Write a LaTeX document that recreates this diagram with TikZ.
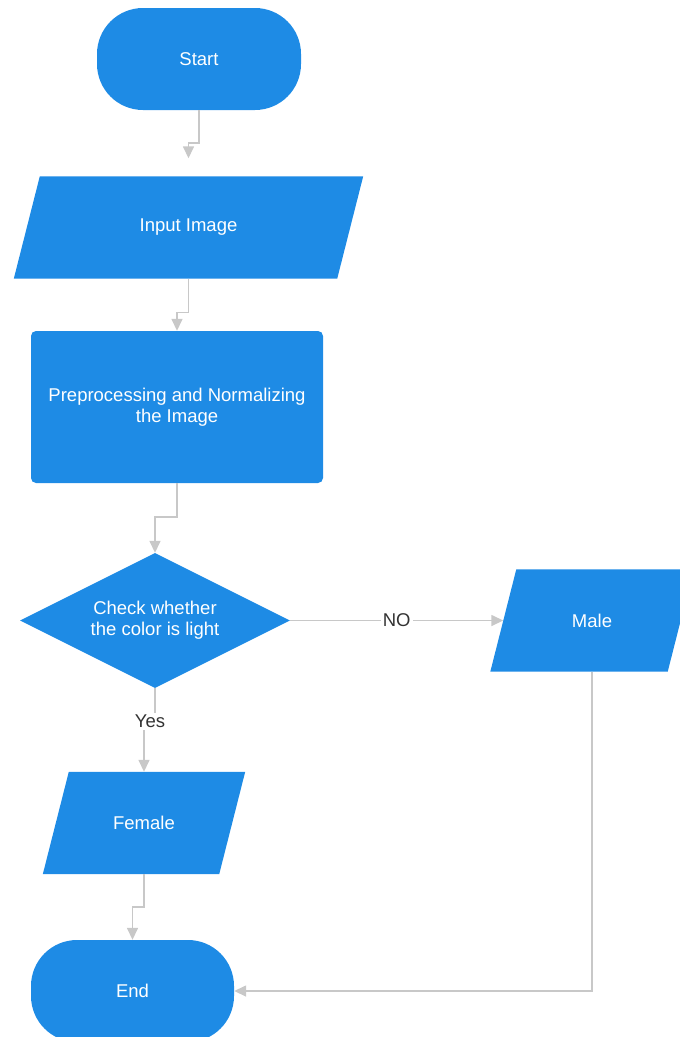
\documentclass[tikz,border=0pt]{standalone}
\usepackage{fontspec}
\setmainfont{Liberation Sans}
\definecolor{boxblue}{RGB}{30, 139, 229}
\definecolor{linegray}{RGB}{200, 200, 200}
\definecolor{labelgray}{RGB}{51, 51, 51}
\usetikzlibrary{shapes.geometric, arrows.meta, positioning, calc, backgrounds}

\begin{document}
\begin{tikzpicture}[x=1pt, y=-1pt,
  every node/.style={font=\fontsize{18.5}{21}\selectfont},
  termbox/.style={fill=boxblue, text=white, rounded corners=46pt, minimum width=204pt, minimum height=102pt},
  iobox/.style={text=white, minimum height=102pt, inner sep=0pt,
    append after command={\pgfextra{\begin{pgfonlayer}{background}
      \fill[boxblue] ([xshift=13pt]\tikzlastnode.north west) -- ([xshift=13pt]\tikzlastnode.north east)
        -- ([xshift=-13pt]\tikzlastnode.south east) -- ([xshift=-13pt]\tikzlastnode.south west) -- cycle;
      \end{pgfonlayer}}}},
  procbox/.style={fill=boxblue, text=white, rounded corners=5pt, minimum width=292pt, minimum height=152pt, align=center},
  decision/.style={diamond, aspect=2, fill=boxblue, text=white, minimum width=270pt, minimum height=135pt, inner sep=0pt, align=center},
  flow/.style={-{Triangle[length=12pt, width=11pt]}, line width=1.5pt, linegray},
  lbl/.style={fill=white, text=labelgray, inner sep=2pt}
]
  \useasboundingbox (0, 0) rectangle (680, 1037);

  % main column
  \node[termbox] (start) at (199, 59) {Start};
  \node[iobox, minimum width=323pt] (input) at (188.5, 227.5) {Input Image};
  \node[procbox] (prep) at (177, 407) {Preprocessing and Normalizing\\the Image};
  \node[decision] (check) at (155, 620.5) {Check whether\\the color is light};

  % outcomes
  \node[iobox, minimum width=177pt] (male) at (592, 620.5) {Male};
  \node[iobox, minimum width=176pt] (female) at (144, 823) {Female};
  \node[termbox, minimum width=203pt] (end) at (132.5, 991) {End};

  % connectors
  \draw[flow, shorten >=18pt] (start.south) -- ++(0, 33) -| (input.north);
  \draw[flow] (input.south) -- ++(0, 34) -| (prep.north);
  \draw[flow] (prep.south) -- ++(0, 34) -| (check.north);
  \draw[flow] (check.east) -- node[lbl] {NO} (male);
  \draw[flow] (check.south) -- ++(0, 33) node[lbl, xshift=-5pt] {Yes} -| (female.north);
  \draw[flow] (female.south) -- ++(0, 33) -| (end.north);
  \draw[flow] (male.south) |- (end.east);
\end{tikzpicture}
\end{document}
